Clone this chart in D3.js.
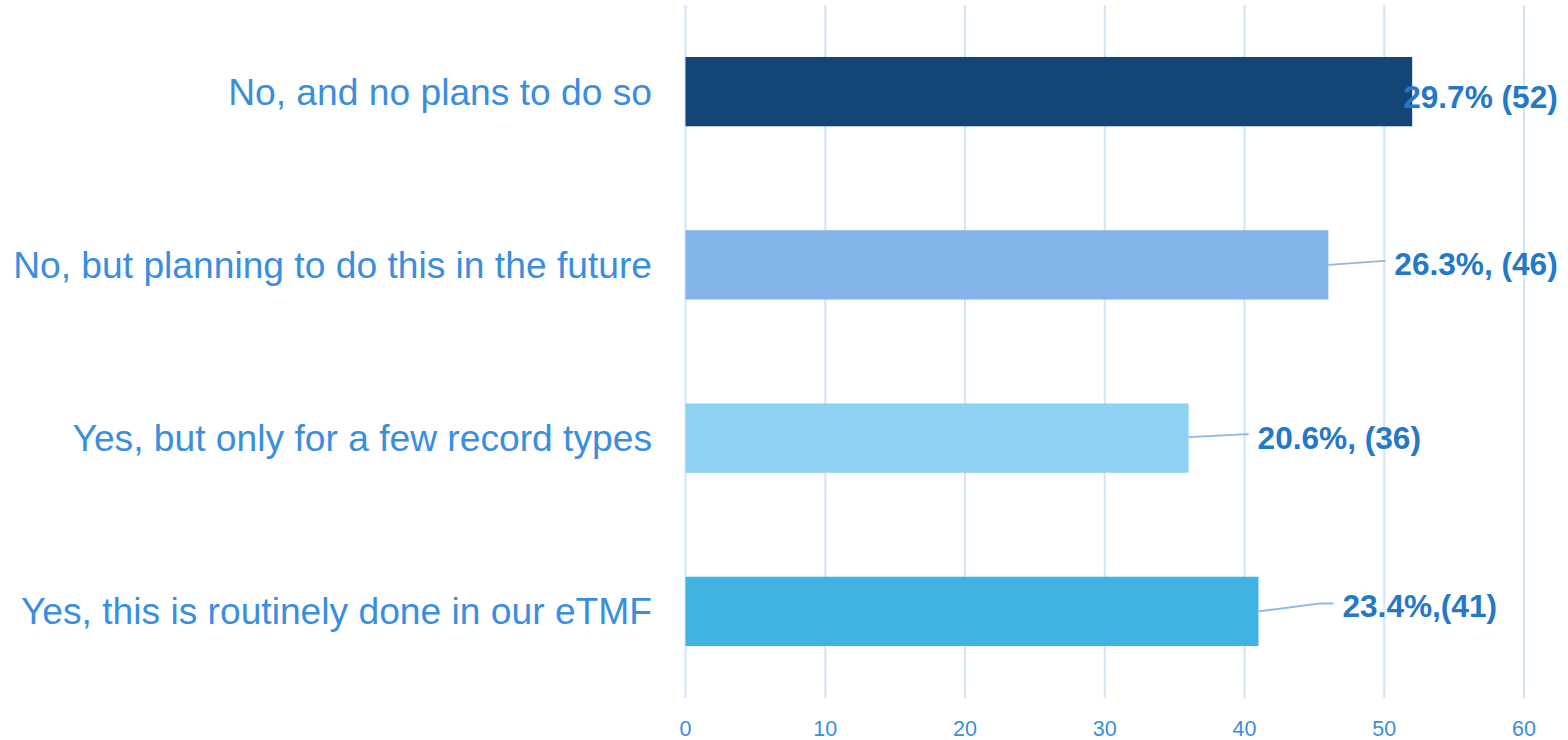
<!DOCTYPE html>
<html><head><meta charset="utf-8">
<script src="https://cdn.jsdelivr.net/npm/d3@7"></script>
<style>body{margin:0;background:#fff}svg{display:block}text{font-family:'Liberation Sans',Arial,sans-serif}</style>
</head><body>
<script>
const categories = ["No, and no plans to do so","No, but planning to do this in the future","Yes, but only for a few record types","Yes, this is routinely done in our eTMF"];
const values = [52, 46, 36, 41];
const valueLabels = ["29.7% (52)","26.3%, (46)","20.6%, (36)","23.4%,(41)"];
const barColors = ["#134576","#82b4ea","#8ed1f0","#41b3e3"];
const tickValues = [0,10,20,30,40,50,60];
// label placement offsets (px) relative to bar end: [textDx, textDy, lineStartDy, elbowDx, elbowDy]
const labelOffsets = [[-9,5,null,null,null],[66,-1,0,56,-4],[69,0,-1,59,-4],[84,-5,0,62,-8]];

const W=1568,H=740;
const svg=d3.select("body").append("svg").attr("width",W).attr("height",H);
const x=d3.scaleLinear().domain([0,60]).range([685.5,1524]);
const y=d3.scaleBand().domain(categories).range([5,698]).paddingInner(0.6).paddingOuter(0.3);

svg.append("g").selectAll("line").data(tickValues).join("line")
  .attr("x1",d=>x(d)).attr("x2",d=>x(d)).attr("y1",5).attr("y2",698)
  .attr("stroke","#d3e4f6").attr("stroke-width",2);

svg.append("g").selectAll("text").data(tickValues).join("text")
  .attr("x",d=>x(d)).attr("y",736).attr("text-anchor","middle")
  .attr("font-size",21.5).attr("fill","#3a8ee0").text(d=>d);

svg.append("g").selectAll("rect").data(categories).join("rect")
  .attr("x",x(0)).attr("y",d=>y(d)).attr("width",(d,i)=>x(values[i])-x(0))
  .attr("height",y.bandwidth()).attr("fill",(d,i)=>barColors[i]);

svg.append("g").selectAll("text").data(categories).join("text")
  .attr("x",652).attr("y",d=>y(d)+y.bandwidth()/2).attr("dy","0.35em")
  .attr("text-anchor","end")
  .attr("font-size",37.2).attr("fill","#3a8ee0").text(d=>d);

const lbl=svg.append("g");
categories.forEach((c,i)=>{
  const bx=x(values[i]), cy=y(c)+y.bandwidth()/2;
  const o=labelOffsets[i];
  if(o[2]!==null){
    lbl.append("polyline")
      .attr("points",[[bx,cy+o[2]],[bx+o[3],cy+o[4]],[bx+o[0]-9,cy+o[4]]].map(p=>p.join(",")).join(" "))
      .attr("fill","none").attr("stroke","#8ab8e8").attr("stroke-width",2);
  }
  lbl.append("text").attr("x",bx+o[0]).attr("y",cy+o[1]).attr("dy","0.35em")
    .attr("font-weight","bold")
    .attr("font-size",31.6).attr("fill","#2478c8").text(valueLabels[i]);
});
</script>
</body></html>
